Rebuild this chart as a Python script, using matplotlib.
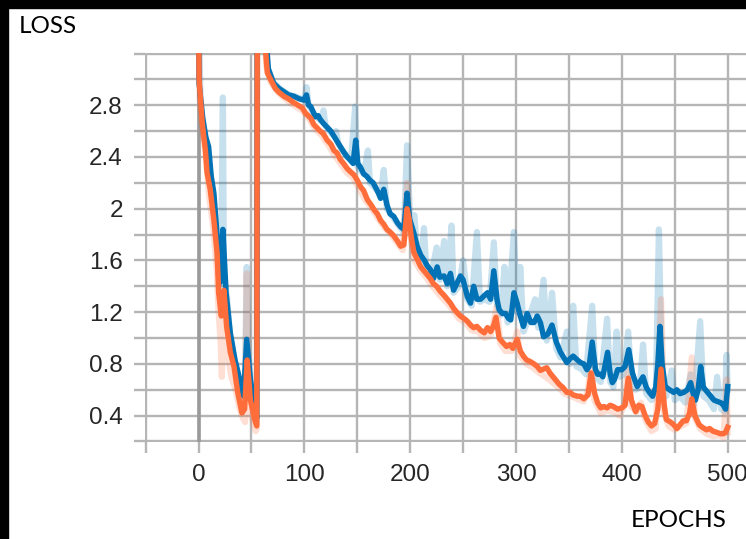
import numpy as np
import matplotlib
matplotlib.use("Agg")
from matplotlib import pyplot as plt
from matplotlib.patches import Rectangle

# smoothed curves (epoch, loss)
blue_epochs = [0, 0.5, 4, 7, 9.5, 12, 14.5, 17, 20.5, 23, 26, 30, 34.5, 39.5, 42.5, 45.5, 49, 53, 55, 55.5,
               62, 64, 66, 71, 76, 80.5, 85, 90, 95, 99.5, 102, 104, 106, 110.5, 113, 115, 118, 121.5, 125, 128,
               131, 134, 137, 140.5, 143, 146, 148.5, 150.5, 153, 156, 159, 162, 165, 167, 170, 172, 175, 178,
               181, 184.5, 188, 191, 194, 197, 199.5, 203.5, 206.5, 210, 213, 216, 219, 222, 225.5, 228, 232,
               235, 238, 241, 244, 247.5, 250, 254, 257, 260, 263, 266.5, 269, 273, 276, 279, 282, 284, 287,
               290, 293, 295, 298, 301, 304, 307, 310.5, 314, 317, 320, 323, 326, 330, 334, 338, 342, 345, 348,
               351, 354, 358, 361, 364, 367, 369, 372, 375, 377, 380, 382, 386.5, 389, 391, 393, 396, 400, 403,
               406.5, 410, 412, 414.5, 417, 420, 423, 426, 429, 432, 434, 436, 438, 441, 445, 449, 452, 455,
               458.5, 462, 465, 467, 469.5, 472, 474.5, 477, 481, 484, 487, 490, 493.5, 496, 498, 500]
blue_loss = [3.5, 2.97, 2.70, 2.55, 2.48, 2.25, 2.12, 1.85, 1.43, 1.84, 1.35, 1.04, 0.83, 0.66, 0.55, 0.99, 0.68, 0.47, 0.38, 3.6,
             3.5, 3.3, 3.08, 2.97, 2.93, 2.905, 2.88, 2.87, 2.85, 2.84, 2.88, 2.80, 2.79, 2.71, 2.72, 2.69, 2.66, 2.63, 2.60, 2.56,
             2.52, 2.48, 2.44, 2.40, 2.38, 2.35, 2.53, 2.35, 2.32, 2.27, 2.25, 2.22, 2.20, 2.17, 2.12, 2.08, 2.15, 2.03,
             1.96, 1.94, 1.89, 1.86, 1.84, 2.12, 1.92, 1.81, 1.71, 1.64, 1.605, 1.56, 1.53, 1.46, 1.55, 1.47, 1.48,
             1.42, 1.50, 1.37, 1.42, 1.48, 1.45, 1.32, 1.27, 1.40, 1.30, 1.30, 1.32, 1.35, 1.30, 1.52, 1.30, 1.22, 1.19,
             1.19, 1.15, 1.14, 1.35, 1.27, 1.17, 1.09, 1.19, 1.12, 1.12, 1.17, 1.12, 1.01, 1.03, 1.10, 0.97, 0.89, 0.85, 0.81,
             0.84, 0.86, 0.83, 0.81, 0.80, 0.755, 0.78, 0.97, 0.76, 0.72, 0.72, 0.70, 0.89, 0.72, 0.655, 0.68, 0.755, 0.755, 0.78,
             0.91, 0.73, 0.68, 0.625, 0.66, 0.70, 0.62, 0.58, 0.55, 0.62, 0.80, 1.09, 0.80, 0.625, 0.60, 0.58, 0.60, 0.57,
             0.58, 0.60, 0.655, 0.58, 0.52, 0.60, 0.78, 0.62, 0.58, 0.55, 0.52, 0.51, 0.50, 0.48, 0.45, 0.625]

orange_epochs = [0, 0.5, 3.5, 6.5, 8, 11, 14.5, 17.5, 19, 21.5, 24, 26.5, 30, 33.5, 37, 41, 43.5, 46, 49, 53, 55, 55.5,
                 62, 64, 65, 68, 72.5, 76, 80.5, 85, 90, 94, 98, 101, 106, 109, 115, 118, 121.5, 125, 128, 131, 134,
                 137, 140.5, 143, 147, 150, 153, 156, 159.5, 163, 166, 169, 172, 175, 178, 181, 184.5, 188, 191, 194,
                 197, 199, 201, 203.5, 206, 210, 213, 216, 219, 222, 225, 228.5, 232, 235, 238, 241, 244, 247.5, 251,
                 254, 257, 260, 263, 266.5, 270, 273, 276, 279, 281, 284, 287, 291, 294, 297, 301, 304, 307, 310, 313,
                 317, 320, 323, 326, 329, 332, 335, 338, 341, 344, 348, 351, 354, 358, 361, 364, 368, 371, 374, 377,
                 380, 383, 386, 389, 392, 396, 400, 403, 406, 409, 413, 416, 419, 422, 425, 428, 431, 434, 437, 440,
                 442, 446, 449, 452, 455, 458, 461, 464, 466, 469, 473, 476, 480, 483, 486, 490, 493, 496, 498, 500]
orange_loss = [3.5, 3.0, 2.66, 2.45, 2.28, 2.15, 1.91, 1.66, 1.35, 1.17, 1.37, 1.09, 0.89, 0.78, 0.58, 0.42, 0.45, 0.83, 0.52, 0.37, 0.32, 3.6,
               3.4, 3.15, 3.05, 3.0, 2.93, 2.90, 2.87, 2.85, 2.82, 2.80, 2.78, 2.74, 2.70, 2.65, 2.60, 2.58, 2.53, 2.50, 2.45, 2.43, 2.38,
               2.35, 2.31, 2.29, 2.26, 2.22, 2.17, 2.14, 2.07, 2.03, 1.99, 1.96, 1.91, 1.88, 1.84, 1.82, 1.79, 1.75, 1.71, 1.72,
               2.00, 1.92, 1.78, 1.66, 1.62, 1.55, 1.52, 1.49, 1.46, 1.42, 1.40, 1.36, 1.33, 1.30, 1.27, 1.23, 1.20, 1.17, 1.15,
               1.13, 1.10, 1.08, 1.09, 1.06, 1.04, 1.08, 1.05, 1.10, 1.16, 1.00, 0.97, 0.935, 0.95, 0.92, 0.99, 0.90, 0.86, 0.83, 0.82,
               0.80, 0.78, 0.75, 0.76, 0.77, 0.73, 0.70, 0.67, 0.64, 0.62, 0.58, 0.58, 0.56, 0.55, 0.55, 0.53, 0.56, 0.73, 0.58, 0.50,
               0.46, 0.47, 0.46, 0.48, 0.47, 0.45, 0.46, 0.48, 0.69, 0.52, 0.43, 0.48, 0.47, 0.40, 0.35, 0.32, 0.34, 0.45, 0.76, 0.48,
               0.37, 0.35, 0.33, 0.30, 0.33, 0.36, 0.36, 0.42, 0.53, 0.40, 0.33, 0.31, 0.29, 0.30, 0.28, 0.27, 0.26, 0.26, 0.27, 0.31]

# raw (unsmoothed) runs, drawn faint behind
raw_blue_epochs = [0, 2, 5, 8, 12, 16, 19, 21, 23, 24, 27, 30, 34, 38, 42, 44, 45.5, 47, 50, 53, 55, 55.5,
                   62, 65, 70, 78, 86, 94, 100, 102, 104, 110, 116, 118, 120, 126, 130, 132, 138, 144, 148, 150,
                   156, 160, 162, 168, 172, 175, 178, 184, 190, 194, 197, 200, 204, 206, 210, 213, 215, 220, 225,
                   228, 232, 235, 239, 241, 246, 250, 254, 258, 263, 266, 270, 275, 279, 282, 286, 289, 292, 298,
                   301, 304, 307, 312, 318, 321, 326, 329, 334, 338, 342, 348, 351, 354, 357, 362, 366, 372, 375,
                   380, 386, 389, 392, 395, 398, 402, 406, 409, 413, 417, 420, 423, 428, 432, 435, 438, 442, 447,
                   450, 455, 460, 465, 468, 474, 477, 482, 487, 490, 494, 497, 499, 500]
raw_blue_loss = [3.5, 2.8, 2.55, 2.45, 2.2, 1.9, 1.5, 1.35, 2.86, 1.5, 1.3, 1.0, 0.82, 0.65, 0.55, 0.7, 1.55, 0.9, 0.6, 0.42, 0.35, 3.6,
                 3.5, 3.1, 2.98, 2.92, 2.88, 2.86, 2.84, 2.94, 2.80, 2.72, 2.68, 2.76, 2.64, 2.58, 2.6, 2.5, 2.43, 2.37, 2.79, 2.33,
                 2.27, 2.45, 2.2, 2.15, 2.1, 2.30, 2.0, 1.93, 1.86, 1.82, 2.49, 1.9, 1.95, 1.7, 1.62, 1.85, 1.55, 1.5, 1.70,
                 1.45, 1.75, 1.4, 1.87, 1.35, 1.4, 1.60, 1.3, 1.25, 1.82, 1.28, 1.3, 1.28, 1.74, 1.25, 1.18, 1.55, 1.12, 1.82,
                 1.2, 1.55, 1.05, 1.15, 1.30, 1.08, 1.45, 0.98, 1.35, 0.92, 0.85, 1.05, 0.8, 1.25, 0.78, 0.76, 0.72, 1.25, 0.7,
                 0.66, 1.15, 0.66, 0.62, 1.05, 0.7, 0.72, 1.05, 0.68, 0.6, 0.62, 0.95, 0.57, 0.52, 0.55, 1.84, 0.62, 0.55, 0.75,
                 0.52, 0.55, 0.5, 0.72, 0.48, 1.13, 0.55, 0.52, 0.45, 0.70, 0.45, 0.43, 0.87, 0.6]

raw_orange_epochs = [0, 1, 4, 7, 10, 14, 17, 19, 21, 22, 24, 26, 28, 31, 35, 39, 42, 44, 45.5, 47, 50, 54, 55, 55.5,
                     62, 64, 68, 75, 82, 90, 98, 104, 110, 116, 122, 128, 134, 140, 146, 152, 158, 164, 170, 176,
                     182, 188, 193, 197, 200, 204, 210, 216, 222, 228, 234, 240, 246, 252, 258, 264, 270, 276, 282,
                     285, 290, 296, 301, 304, 310, 316, 322, 328, 334, 340, 346, 352, 358, 364, 368, 371, 374, 380,
                     386, 392, 398, 403, 406, 409, 414, 418, 422, 428, 432, 437, 440, 444, 450, 456, 461, 466, 469,
                     474, 480, 486, 492, 496, 499, 500]
raw_orange_loss = [3.5, 2.85, 2.6, 2.4, 2.1, 1.85, 1.55, 1.2, 0.95, 0.7, 1.3, 0.95, 0.85, 0.7, 0.6, 0.45, 0.38, 0.35, 1.5, 0.6, 0.4, 0.28, 0.3, 3.6,
                   3.5, 3.1, 2.98, 2.9, 2.85, 2.8, 2.76, 2.7, 2.62, 2.57, 2.5, 2.42, 2.35, 2.28, 2.24, 2.15, 2.06, 2.0, 1.92, 1.85,
                   1.8, 1.73, 1.68, 2.2, 1.8, 1.6, 1.52, 1.46, 1.39, 1.33, 1.28, 1.22, 1.15, 1.12, 1.06, 1.05, 1.0, 1.02, 1.25,
                   0.96, 0.9, 0.9, 1.05, 0.86, 0.8, 0.77, 0.73, 0.7, 0.66, 0.62, 0.57, 0.55, 0.53, 0.51, 0.6, 0.82, 0.52, 0.42,
                   0.44, 0.43, 0.4, 0.5, 0.78, 0.47, 0.43, 0.5, 0.37, 0.28, 0.3, 1.30, 0.42, 0.32, 0.29, 0.32, 0.34, 0.85, 0.38,
                   0.3, 0.26, 0.24, 0.25, 0.23, 0.68, 0.27]

# third run, only visible as a vertical line at step 0
gray_epochs = [0, 0]
gray_loss = [0.2, 3.2]

y_ticks = [0.2, 0.4, 0.6, 0.8, 1.0, 1.2, 1.4, 1.6, 1.8, 2.0, 2.2, 2.4, 2.6, 2.8, 3.0, 3.2]
y_labels = ["", "0.4", "", "0.8", "", "1.2", "", "1.6", "", "2", "", "2.4", "", "2.8", "", ""]
x_ticks = [-50, 0, 50, 100, 150, 200, 250, 300, 350, 400, 450, 500]
x_labels = ["", "0", "", "100", "", "200", "", "300", "", "400", "", "500"]

BLUE = "#0072b5"
ORANGE = "#ff6d3a"
GRID = "#b5b5b5"

fig = plt.figure(figsize=(7.46, 5.39), dpi=100)
ax = fig.add_axes([145 / 746, 1 - 442 / 539, 1 - 145 / 746 + 0.001, (442 - 53) / 539])

ax.plot(gray_epochs, gray_loss, color="#9a9a9a", lw=2.6, zorder=2)
ax.plot(raw_blue_epochs, raw_blue_loss, color=BLUE, alpha=0.22, lw=4.5, zorder=3)
ax.plot(raw_orange_epochs, raw_orange_loss, color=ORANGE, alpha=0.22, lw=4.5, zorder=3)
ax.plot(blue_epochs, blue_loss, color=BLUE, lw=3.9, zorder=4, solid_joinstyle="round")
ax.plot(orange_epochs, orange_loss, color=ORANGE, lw=3.9, zorder=5, solid_joinstyle="round")

ax.set_xlim(-50.6, 518)
ax.set_ylim(0.196, 3.204)
ax.set_xticks(x_ticks)
ax.set_xticklabels(x_labels)
ax.set_yticks(y_ticks)
ax.set_yticklabels(y_labels)
ax.grid(True, color=GRID, lw=1.7)
ax.set_axisbelow(True)
for s in ax.spines.values():
    s.set_visible(False)
ax.tick_params(axis="both", length=8, width=1.7, color=GRID, labelcolor="#262626",
               labelsize=17.5)
ax.tick_params(axis="x", pad=8)
ax.tick_params(axis="y", pad=8)
for t in ax.get_xticklabels() + ax.get_yticklabels():
    t.set_fontfamily("Liberation Sans")

fig.text(19 / 746, 1 - 33 / 539, "LOSS", family="Lato", fontsize=17.5, color="black", va="baseline")
fig.text(631 / 746, 1 - 527 / 539, "EPOCHS", family="Lato", fontsize=17.5, color="black", va="baseline")

# black frame on the screenshot's top and left
fig.patches.append(Rectangle((0, 1 - 8 / 539), 1, 8 / 539, transform=fig.transFigure, color="black", zorder=10))
fig.patches.append(Rectangle((0, 0), 8 / 746, 1, transform=fig.transFigure, color="black", zorder=10))

plt.savefig("out.png", dpi=100)
